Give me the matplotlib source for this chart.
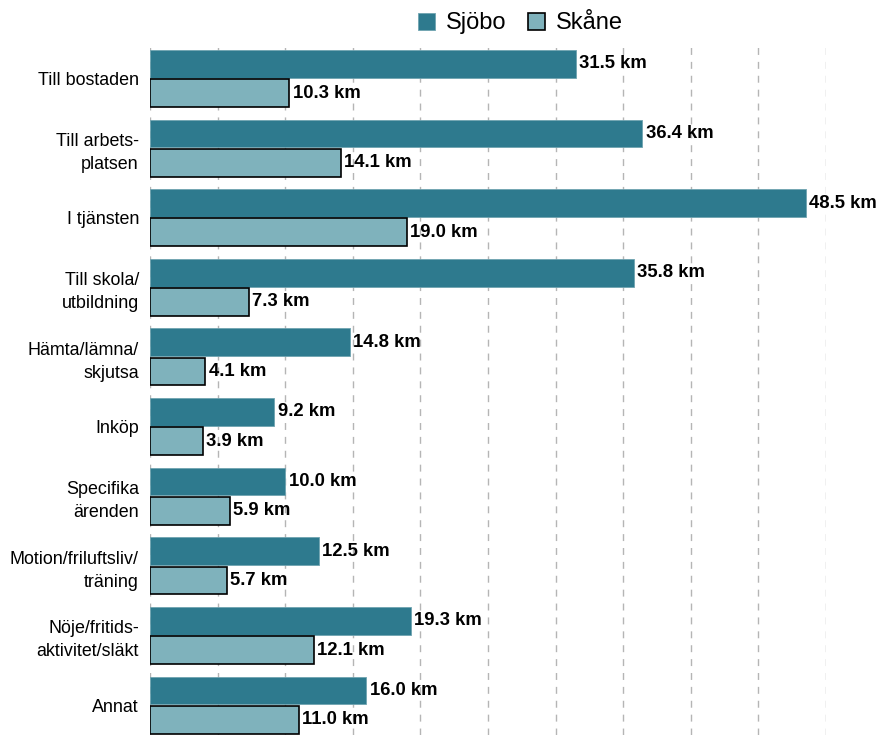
import numpy as np
import matplotlib.pyplot as plt

plt.rcParams['font.family'] = ['Liberation Sans', 'DejaVu Sans']

categories = ["Till bostaden", "Till arbets-\nplatsen", "I tjänsten", "Till skola/\nutbildning",
              "Hämta/lämna/\nskjutsa", "Inköp", "Specifika\närenden", "Motion/friluftsliv/\nträning",
              "Nöje/fritids-\naktivitet/släkt", "Annat"]
sjobo = [31.5, 36.4, 48.5, 35.8, 14.8, 9.2, 10.0, 12.5, 19.3, 16.0]
skane = [10.3, 14.1, 19.0, 7.3, 4.1, 3.9, 5.9, 5.7, 12.1, 11.0]

c_sjobo = '#2e7a8e'
c_skane = '#7fb2bc'

fig = plt.figure(figsize=(8.79, 7.35), dpi=100)
ax = fig.add_axes([150/879, 0, (826-150)/879, 1-45/735])

y = np.arange(len(categories))
h = 0.40
off = 0.21

b1 = ax.barh(y - off, sjobo, height=h, color=c_sjobo, edgecolor='#6fa3b0', linewidth=0.6, label='Sjöbo', zorder=3)
b2 = ax.barh(y + off, skane, height=h, color=c_skane, edgecolor='black', linewidth=1.2, label='Skåne', zorder=3)

for bars, vals in ((b1, sjobo), (b2, skane)):
    for b, v in zip(bars, vals):
        ax.text(v + 0.25, b.get_y() + b.get_height()/2, f"{v:.1f} km", va='center', ha='left',
                fontsize=13.3, fontweight='bold', zorder=4)

ax.set_xlim(0, 50)
ax.set_ylim(9.43, -0.48)
ax.set_xticks(np.arange(0, 51, 5))
ax.set_xticklabels([])
ax.tick_params(axis='x', length=0)
ax.tick_params(axis='y', length=0, pad=8)
ax.set_yticks(y)
ax.set_yticklabels(categories, fontsize=12.9, linespacing=1.45)
ax.grid(axis='x', linestyle=(0, (5, 5)), color='#b5b5b5', linewidth=1, zorder=0)
for s in ax.spines.values():
    s.set_visible(False)

fig.legend(handles=[b1, b2], loc='upper center', bbox_to_anchor=(0.592, 1.012), ncol=2, frameon=False,
           fontsize=17, handlelength=0.75, handleheight=0.75, columnspacing=0.9, handletextpad=0.45)

fig.savefig('out.png', dpi=100)
